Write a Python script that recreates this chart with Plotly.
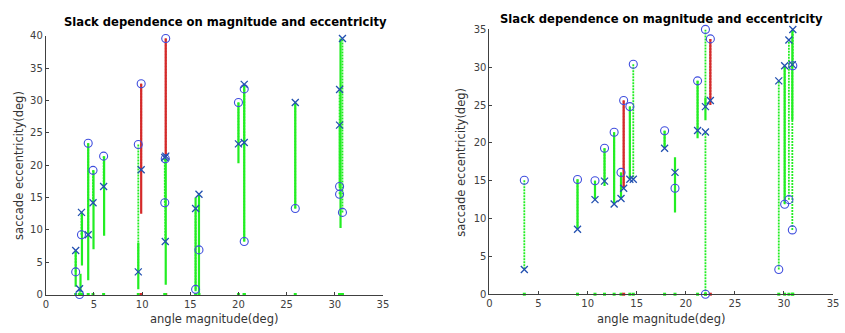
import plotly.graph_objects as go

# ---------------- data: left panel ----------------
L_MAG    = [3.1, 3.5, 3.7, 4.4, 4.9, 6.0, 9.6, 9.9, 12.45, 12.4, 12.35, 15.55, 15.9, 20.0, 20.6, 20.6, 25.9, 30.5, 30.5, 30.8]
L_CIRCLE = [3.5, 0.0, 9.25, 23.4, 19.2, 21.4, 23.2, 32.6, 39.6, 21.0, 14.2, 0.8, 6.9, 29.7, 31.8, 8.2, 13.3, 16.7, 15.5, 12.7]
L_CROSS  = [6.8, 0.9, 12.7, 9.25, 14.2, 16.7, 3.5, 19.3, 21.4, 8.2, 21.2, 13.3, 15.5, 23.3, 23.5, 32.5, 29.7, 31.7, 26.2, 39.6]
L_FLAG   = ['g', 'g', 'g', 'g', 'g', 'g', 'g', 'r', 'r', 'g', 'g', 'g', 'g', 'g', 'g', 'g', 'g', 'g', 'g', 'g']

L_BAR_X    = [3.1, 3.6, 3.75, 4.4, 4.95, 6.05, 9.6, 9.9, 12.45, 12.45, 15.55, 15.9, 20.0, 20.6, 25.9, 30.6]
L_BAR_LO   = [1.2, 0.3, 4.5, 2.2, 7.0, 9.1, 0.8, 12.5, 21.2, 1.5, 0.5, 0.2, 20.3, 8.2, 13.3, 10.3]
L_BAR_HI   = [6.8, 3.2, 12.7, 23.4, 19.2, 21.4, 8.0, 32.6, 39.6, 21.0, 15.0, 15.5, 29.7, 32.5, 29.7, 39.6]
L_BAR_FLAG = ['g', 'g', 'g', 'g', 'g', 'g', 'g', 'r', 'r', 'g', 'g', 'g', 'g', 'g', 'g', 'g']

# ---------------- data: right panel ----------------
R_MAG    = [3.55, 8.97, 10.75, 11.72, 12.7, 13.4, 13.67, 14.3, 14.65, 17.84, 18.9, 21.2, 22.0, 22.0, 22.5, 29.47, 30.07, 30.5, 30.9, 30.85]
R_CIRCLE = [15.07, 15.16, 15.0, 19.3, 21.4, 16.1, 25.6, 24.8, 30.4, 21.6, 14.0, 28.2, 35.0, 0.0, 33.75, 3.27, 11.9, 12.5, 30.2, 8.5]
R_CROSS  = [3.27, 8.58, 12.5, 14.95, 11.93, 12.65, 14.0, 15.2, 15.2, 19.3, 16.1, 21.65, 24.8, 21.45, 25.6, 28.2, 30.2, 33.6, 35.0, 30.35]
R_FLAG   = ['g', 'g', 'g', 'g', 'g', 'g', 'r', 'g', 'g', 'g', 'g', 'g', 'g', 'g', 'r', 'g', 'g', 'g', 'g', 'g']

R_BAR_X    = [8.97, 10.75, 11.72, 12.7, 13.4, 13.67, 14.3, 17.84, 18.9, 21.2, 22.0, 22.5, 30.07, 30.85]
R_BAR_LO   = [8.6, 12.5, 14.3, 11.9, 12.6, 14.0, 15.2, 19.3, 10.8, 20.6, 23.0, 25.0, 12.0, 23.0]
R_BAR_HI   = [15.2, 15.0, 19.3, 21.4, 16.1, 25.6, 24.8, 21.6, 18.1, 28.2, 26.0, 33.75, 30.2, 35.0]
R_BAR_FLAG = ['g', 'g', 'g', 'g', 'g', 'r', 'g', 'g', 'g', 'g', 'g', 'r', 'g', 'g']

TITLE = "Slack dependence on magnitude and eccentricity"
XLABEL = "angle magnitude(deg)"
YLABEL = "saccade eccentricity(deg)"

GREEN = "#22ee22"
RED = "#d42a2a"
CIRC = "#3f4ede"
CROSSC = "#2250b0"
COL = {'g': GREEN, 'r': RED}

fig = go.Figure()


def segs(xs, y0s, y1s, flags, want):
    X, Y = [], []
    for x, a, b, f in zip(xs, y0s, y1s, flags):
        if f == want:
            X += [x, x, None]
            Y += [a, b, None]
    return X, Y


def add_panel(mag, circ, cross, flag, bx, blo, bhi, bflag, xa, ya):
    # dotted connectors between circle and cross
    for f in ['g', 'r']:
        X, Y = segs(mag, circ, cross, flag, f)
        if X:
            fig.add_trace(go.Scatter(x=X, y=Y, mode="lines", xaxis=xa, yaxis=ya,
                                     line=dict(color=COL[f], width=1.8, dash="2px,1px"),
                                     hoverinfo="skip", showlegend=False))
    # solid range bars
    for f in ['g', 'r']:
        X, Y = segs(bx, blo, bhi, bflag, f)
        if X:
            fig.add_trace(go.Scatter(x=X, y=Y, mode="lines", xaxis=xa, yaxis=ya,
                                     line=dict(color=COL[f], width=2.2),
                                     hoverinfo="skip", showlegend=False))
    # baseline ticks
    fig.add_trace(go.Scatter(x=mag, y=[0] * len(mag), mode="markers", xaxis=xa, yaxis=ya,
                             marker=dict(symbol="square", size=3,
                                         color=[COL[f] for f in flag]),
                             cliponaxis=False, hoverinfo="skip", showlegend=False))
    fig.add_trace(go.Scatter(x=mag, y=circ, mode="markers", xaxis=xa, yaxis=ya,
                             marker=dict(symbol="circle-open", size=8,
                                         color=CIRC, line=dict(width=1.1, color=CIRC)),
                             cliponaxis=False, showlegend=False))
    fig.add_trace(go.Scatter(x=mag, y=cross, mode="markers", xaxis=xa, yaxis=ya,
                             marker=dict(symbol="x-thin-open", size=7,
                                         color=CROSSC, line=dict(width=1.3, color=CROSSC)),
                             cliponaxis=False, showlegend=False))


add_panel(L_MAG, L_CIRCLE, L_CROSS, L_FLAG, L_BAR_X, L_BAR_LO, L_BAR_HI, L_BAR_FLAG, "x", "y")
add_panel(R_MAG, R_CIRCLE, R_CROSS, R_FLAG, R_BAR_X, R_BAR_LO, R_BAR_HI, R_BAR_FLAG, "x2", "y2")

W, H = 845, 333
TICKF = dict(family="DejaVu Sans", size=10, color="#404040")
axcommon = dict(showgrid=False, zeroline=False, showline=True, linecolor="#404040",
                linewidth=1, ticks="inside", ticklen=3, tickcolor="#404040",
                tickfont=TICKF, mirror=False)

fig.update_layout(
    width=W, height=H, margin=dict(l=0, r=0, t=0, b=0),
    paper_bgcolor="white", plot_bgcolor="white",
    xaxis=dict(domain=[43.3 / W, 384 / W], range=[0, 35], dtick=5, anchor="y", **axcommon),
    yaxis=dict(domain=[(H - 299.3) / H, (H - 31) / H], range=[0, 40], dtick=5, anchor="x", **axcommon),
    xaxis2=dict(domain=[491.7 / W, 839 / W], range=[0, 35], dtick=5, anchor="y2", **axcommon),
    yaxis2=dict(domain=[(H - 299) / H, (H - 24.3) / H], range=[0, 35], dtick=5, anchor="x2", **axcommon),
)

ann = []
TF = dict(family="DejaVu Sans", size=11.6, color="black")
LF = dict(family="DejaVu Sans", size=11.5, color="#333333")
ann.append(dict(text="<b>" + TITLE + "</b>", x=224.5 / W, y=1 - 17 / H, xref="paper", yref="paper",
                showarrow=False, font=TF, xanchor="center", yanchor="middle"))
ann.append(dict(text="<b>" + TITLE + "</b>", x=665.5 / W, y=1 - 14 / H, xref="paper", yref="paper",
                showarrow=False, font=TF, xanchor="center", yanchor="middle"))
ann.append(dict(text=XLABEL, x=213.6 / W, y=1 - 325 / H, xref="paper", yref="paper",
                showarrow=False, font=LF, xanchor="center", yanchor="middle"))
ann.append(dict(text=XLABEL, x=665.3 / W, y=1 - 325 / H, xref="paper", yref="paper",
                showarrow=False, font=LF, xanchor="center", yanchor="middle"))
ann.append(dict(text=YLABEL, x=16 / W, y=1 - 165 / H, xref="paper", yref="paper", textangle=-90,
                showarrow=False, font=LF, xanchor="center", yanchor="middle"))
ann.append(dict(text=YLABEL, x=463.5 / W, y=1 - 162 / H, xref="paper", yref="paper", textangle=-90,
                showarrow=False, font=LF, xanchor="center", yanchor="middle"))
fig.update_layout(annotations=ann)

fig.write_html("out.html")
